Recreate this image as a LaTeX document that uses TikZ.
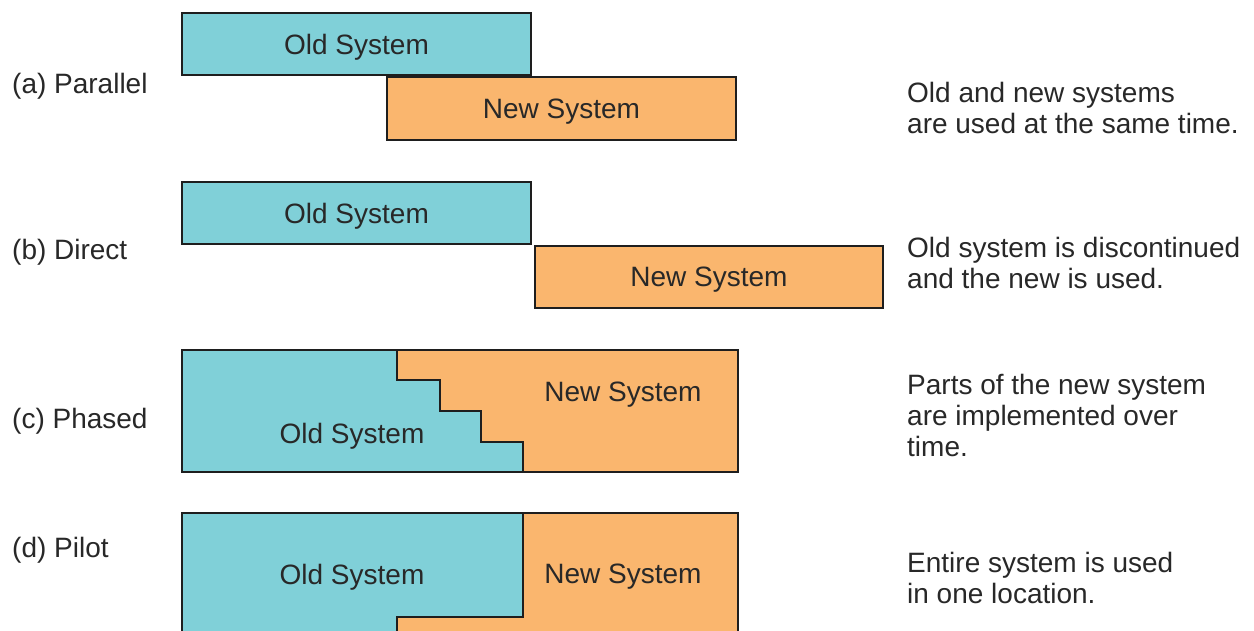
\documentclass[tikz,border=0pt]{standalone}
\usepackage{fontspec}
\setmainfont{Liberation Sans}
\definecolor{oldc}{RGB}{128,208,216}
\definecolor{newc}{RGB}{250,182,110}
\definecolor{edge}{RGB}{30,30,30}
\definecolor{txt}{RGB}{40,40,40}
\begin{document}
\begin{tikzpicture}[x=1pt,y=-1pt,
  sysbox/.style={draw=edge,line width=2.4pt,rectangle,inner sep=0pt,text=txt,font=\fontsize{28}{31}\selectfont},
  oldbox/.style={sysbox,fill=oldc},
  newbox/.style={sysbox,fill=newc},
  boxtext/.style={text=txt,font=\fontsize{28}{31}\selectfont,inner sep=0pt},
  lbl/.style={anchor=west,text=txt,font=\fontsize{28}{31}\selectfont,inner sep=0pt},
  desc/.style={anchor=west,align=left,text=txt,font=\fontsize{28}{31}\selectfont,inner sep=0pt},
  outline/.style={draw=edge,line width=2.4pt,line join=miter}]
\useasboundingbox (0,0) rectangle (1254,630);
\clip (0,0) rectangle (1254,630);
\fill[white] (0,0) rectangle (1254,630);

% (a) Parallel
\node[oldbox,minimum width=349pt,minimum height=62pt] (aold) at (356.5,44) {};
\node[boxtext] at (aold.center) [yshift=-3pt] {Old System};
\node[newbox,minimum width=349pt,minimum height=63pt] (anew) at (561.5,108.5) {};
\node[boxtext] at (anew.center) [yshift=-3pt] {New System};
\node[lbl] (alabel) at (12,86) {(a) Parallel};
\node[desc] (adesc) at (907,108) {Old and new systems\\are used at the same time.};

% (b) Direct
\node[oldbox,minimum width=349pt,minimum height=62pt] (bold) at (356.5,213) {};
\node[boxtext] at (bold.center) [yshift=-3pt] {Old System};
\node[newbox,minimum width=348pt,minimum height=62pt] (bnew) at (709,277) {};
\node[boxtext] at (bnew.center) [yshift=-3pt] {New System};
\node[lbl] (blabel) at (12,252) {(b) Direct};
\node[desc] (bdesc) at (907,262.5) {Old system is discontinued\\and the new is used.};

% (c) Phased
\fill[newc] (182,350) rectangle (738,472);
\fill[oldc] (182,350) -- (397,350) -- (397,380) -- (440,380) -- (440,411) -- (481,411) -- (481,442) -- (523,442) -- (523,472) -- (182,472) -- cycle;
\draw[outline] (397,350) -- (397,380) -- (440,380) -- (440,411) -- (481,411) -- (481,442) -- (523,442) -- (523,472);
\draw[outline] (182,350) rectangle (738,472);
\node[boxtext] (cnew) at (623,395) {New System};
\node[boxtext] (cold) at (352,436) {Old System};
\node[lbl] (clabel) at (12,421) {(c) Phased};
\node[desc] (cdesc) at (907,415.5) {Parts of the new system\\are implemented over\\time.};

% (d) Pilot
\fill[newc] (182,513) rectangle (738,700);
\fill[oldc] (182,513) -- (523,513) -- (523,617) -- (397,617) -- (397,700) -- (182,700) -- cycle;
\draw[outline] (523,513) -- (523,617) -- (397,617) -- (397,700);
\draw[outline] (182,700) -- (182,513) -- (738,513) -- (738,700);
\node[boxtext] (dold) at (352,577) {Old System};
\node[boxtext] (dnew) at (623,577) {New System};
\node[lbl] (dlabel) at (12,550) {(d) Pilot};
\node[desc] (ddesc) at (907,578) {Entire system is used\\in one location.};
\end{tikzpicture}
\end{document}
